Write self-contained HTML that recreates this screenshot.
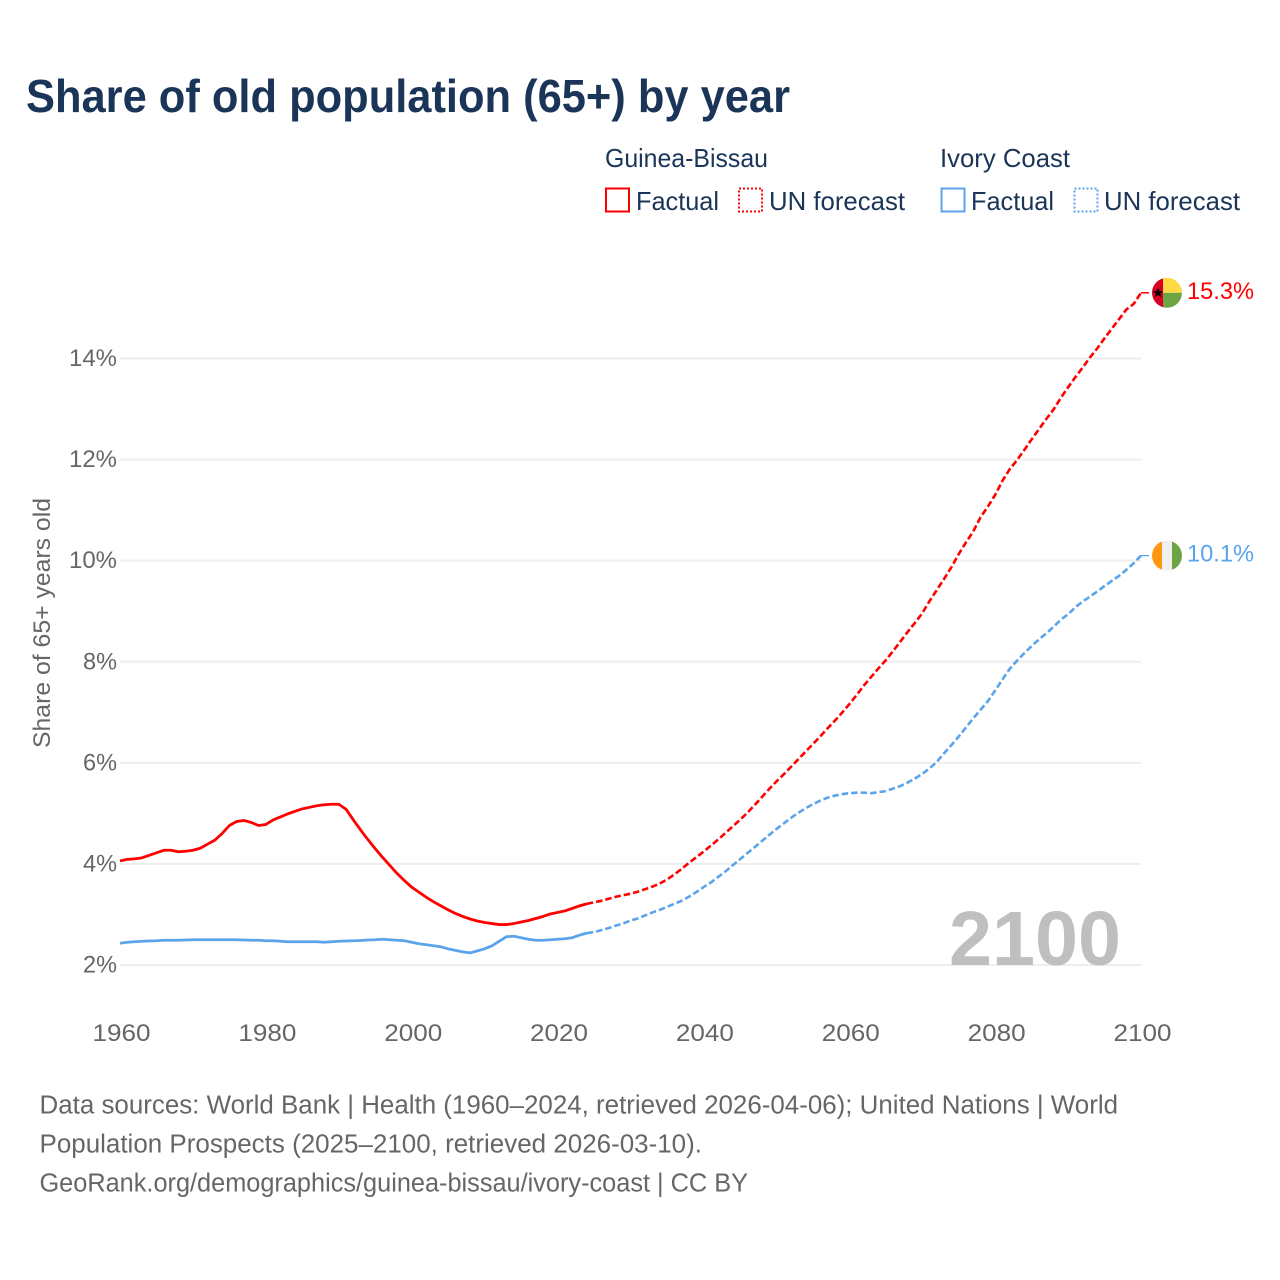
<!DOCTYPE html>
<html lang="en">
<head>
<meta charset="utf-8">
<title>Share of old population (65+) by year</title>
<style>
html,body{margin:0;padding:0;background:#fff;}
svg{display:block;}
text{font-family:"Liberation Sans",sans-serif;}
</style>
</head>
<body>
<svg id="chart" xmlns="http://www.w3.org/2000/svg" width="1280" height="1280" viewBox="0 0 1280 1280">
  <defs>
    <clipPath id="flag-clip"><circle cx="0" cy="0" r="15"/></clipPath>
  </defs>
  <rect x="0" y="0" width="1280" height="1280" fill="#ffffff"/>
  <text x="26" y="112" font-size="46" font-weight="700" fill="#1a3557" textLength="764" lengthAdjust="spacingAndGlyphs">Share of old population (65+) by year</text>

  <g font-size="26" fill="#1a3557">
    <text x="605" y="167" textLength="163" lengthAdjust="spacingAndGlyphs">Guinea-Bissau</text>
    <text x="940" y="167" textLength="130" lengthAdjust="spacingAndGlyphs">Ivory Coast</text>
    <rect x="606" y="188.500" width="23" height="23" fill="none" stroke="#ff0000" stroke-width="2"/>
    <text x="636" y="210" textLength="83" lengthAdjust="spacingAndGlyphs">Factual</text>
    <rect x="739" y="188.500" width="23" height="23" fill="none" stroke="#ff0000" stroke-width="2" stroke-dasharray="2 2"/>
    <text x="769" y="210" textLength="136" lengthAdjust="spacingAndGlyphs">UN forecast</text>
    <rect x="941.500" y="188.500" width="23" height="23" fill="none" stroke="#5ba4ec" stroke-width="2"/>
    <text x="971" y="210" textLength="83" lengthAdjust="spacingAndGlyphs">Factual</text>
    <rect x="1074.500" y="188.500" width="23" height="23" fill="none" stroke="#5ba4ec" stroke-width="2" stroke-dasharray="2 2"/>
    <text x="1104" y="210" textLength="136" lengthAdjust="spacingAndGlyphs">UN forecast</text>
  </g>

  <g id="grid"></g>
  <g id="y-ticks"></g>
  <g id="x-ticks"></g>
  <text transform="translate(50,748) rotate(-90)" x="0" y="0" font-size="24" fill="#666666" textLength="250" lengthAdjust="spacingAndGlyphs">Share of 65+ years old</text>

  <text x="949" y="965" font-size="77" font-weight="700" fill="#bfbfbf" textLength="172" lengthAdjust="spacingAndGlyphs">2100</text>

  <g id="series"></g>

  <g id="flag-gb" clip-path="url(#flag-clip)">
    <rect x="-15" y="-15" width="11" height="30" fill="#d80027"/>
    <rect x="-4" y="-15" width="19" height="15" fill="#ffda44"/>
    <rect x="-4" y="0" width="19" height="15" fill="#6da544"/>
    <polygon points="-9,-5 -7.600,-1.500 -3.900,-1.500 -6.800,0.800 -5.800,4.300 -9,2.300 -12.200,4.300 -11.200,0.800 -14.100,-1.500 -10.400,-1.500" fill="#000000"/>
  </g>
  <g id="flag-ic" clip-path="url(#flag-clip)">
    <rect x="-15" y="-15" width="10" height="30" fill="#ff9811"/>
    <rect x="-5" y="-15" width="10" height="30" fill="#f0f0f0"/>
    <rect x="5" y="-15" width="10" height="30" fill="#6da544"/>
  </g>

  <g font-size="25.500" fill="#666666">
    <text x="39.500" y="1113.500" textLength="1078.500" lengthAdjust="spacingAndGlyphs">Data sources: World Bank | Health (1960–2024, retrieved 2026-04-06); United Nations | World</text>
    <text x="39.500" y="1152.500" textLength="662.500" lengthAdjust="spacingAndGlyphs">Population Prospects (2025–2100, retrieved 2026-03-10).</text>
    <text x="39.500" y="1191.500" textLength="708.500" lengthAdjust="spacingAndGlyphs">GeoRank.org/demographics/guinea-bissau/ivory-coast | CC BY</text>
  </g>
</svg>
<script>
// Years covered by each segment
const factualFirstYear = 1960;
const forecastFirstYear = 2024;

// Guinea-Bissau share of 65+ (%), factual 1960-2024
const guineaBissauFactual = [
  4.06,4.09,4.10,4.12,4.17,4.22,4.27,4.27,4.24,4.25,
  4.27,4.31,4.39,4.47,4.60,4.76,4.84,4.86,4.82,4.76,
  4.78,4.87,4.93,4.99,5.04,5.09,5.12,5.15,5.17,5.18,
  5.18,5.08,4.87,4.67,4.48,4.30,4.13,3.97,3.81,3.67,
  3.54,3.44,3.34,3.25,3.17,3.09,3.02,2.96,2.91,2.87,
  2.84,2.82,2.80,2.80,2.82,2.85,2.88,2.92,2.96,3.01,
  3.04,3.07,3.12,3.17,3.21
];
// Guinea-Bissau UN forecast 2024-2100
const guineaBissauForecast = [
  3.21,3.24,3.27,3.31,3.35,3.38,3.41,3.45,3.50,3.55,
  3.61,3.69,3.79,3.90,4.02,4.13,4.24,4.36,4.48,4.61,
  4.74,4.87,5.01,5.16,5.32,5.48,5.63,5.77,5.92,6.07,
  6.22,6.37,6.52,6.68,6.83,6.99,7.16,7.34,7.53,7.70,
  7.87,8.03,8.21,8.40,8.59,8.77,8.96,9.20,9.42,9.64,
  9.87,10.13,10.36,10.58,10.86,11.07,11.30,11.58,11.81,11.99,
  12.19,12.40,12.60,12.80,12.99,13.22,13.43,13.63,13.82,14.02,
  14.20,14.40,14.59,14.78,14.97,15.08,15.30
];
// Ivory Coast share of 65+ (%), factual 1960-2024
const ivoryCoastFactual = [
  2.43,2.45,2.46,2.47,2.475,2.48,2.49,2.49,2.49,2.495,
  2.50,2.50,2.50,2.50,2.50,2.50,2.50,2.495,2.49,2.49,
  2.48,2.48,2.47,2.46,2.46,2.46,2.46,2.46,2.45,2.46,
  2.47,2.475,2.48,2.485,2.495,2.50,2.51,2.50,2.49,2.48,
  2.45,2.42,2.40,2.38,2.36,2.32,2.29,2.26,2.24,2.28,
  2.32,2.38,2.47,2.56,2.57,2.54,2.51,2.49,2.49,2.50,
  2.51,2.52,2.54,2.59,2.63
];
// Ivory Coast UN forecast 2024-2100
const ivoryCoastForecast = [
  2.63,2.65,2.69,2.73,2.78,2.82,2.88,2.92,2.98,3.04,
  3.09,3.15,3.21,3.27,3.35,3.44,3.54,3.63,3.74,3.85,
  3.97,4.09,4.21,4.33,4.45,4.57,4.69,4.80,4.91,5.01,
  5.10,5.18,5.25,5.31,5.35,5.38,5.40,5.41,5.41,5.40,
  5.42,5.44,5.49,5.54,5.61,5.69,5.78,5.89,6.02,6.19,
  6.35,6.52,6.70,6.88,7.05,7.22,7.43,7.65,7.86,8.02,
  8.17,8.31,8.44,8.56,8.69,8.83,8.94,9.08,9.19,9.29,
  9.39,9.50,9.60,9.70,9.82,9.95,10.10
];
// Axis ticks
const yTickValues = [2,4,6,8,10,12,14];
const xTickYears = [1960,1980,2000,2020,2040,2060,2080,2100];

(function(){
  const NS = 'http://www.w3.org/2000/svg';
  const plot = {left:120, right:1141, y2:965, y14:358.5};
  function xScale(year){ return plot.left + (year - 1960) * (plot.right - plot.left) / 140; }
  function yScale(v){ return plot.y2 - (v - 2) * (plot.y2 - plot.y14) / 12; }
  function el(tag, attrs){
    const e = document.createElementNS(NS, tag);
    for (const k in attrs) e.setAttribute(k, attrs[k]);
    return e;
  }
  function pathFor(values, firstYear){
    return values.map(function(v,i){
      return (i ? 'L' : 'M') + xScale(firstYear + i).toFixed(2) + ' ' + yScale(v).toFixed(2);
    }).join(' ');
  }

  const grid = document.getElementById('grid');
  const yTicks = document.getElementById('y-ticks');
  yTickValues.forEach(function(v){
    const line = el('line', {x1:plot.left, x2:plot.right, y1:yScale(v), y2:yScale(v), stroke:'#eeeeee', 'stroke-width':2});
    
    
    grid.appendChild(line);
    const t = el('text', {x:117, y:yScale(v)+7.5, 'text-anchor':'end', 'font-size':24, fill:'#666666', textLength:(v>=10?48:34), lengthAdjust:'spacingAndGlyphs'});
    
    
    t.textContent = v + '%';
    yTicks.appendChild(t);
  });

  const xTicks = document.getElementById('x-ticks');
  xTickYears.forEach(function(year){
    const t = el('text', {x:xScale(year)+1.5, y:1041, 'text-anchor':'middle', 'font-size':24, fill:'#666666', textLength:58, lengthAdjust:'spacingAndGlyphs'});
    
    
    t.textContent = String(year);
    xTicks.appendChild(t);
  });

  const seriesGroup = document.getElementById('series');
  const RED = '#ff0000', BLUE = '#5ba4ec';

  const gbFactualLine = el('path', {d:pathFor(guineaBissauFactual, factualFirstYear), fill:'none', stroke:RED, 'stroke-width':2.8, 'stroke-linejoin':'round'});
  
  
  seriesGroup.appendChild(gbFactualLine);

  const gbForecastLine = el('path', {d:pathFor(guineaBissauForecast, forecastFirstYear), fill:'none', stroke:RED, 'stroke-width':2.6, 'stroke-dasharray':'6.5 3'});
  
  
  seriesGroup.appendChild(gbForecastLine);

  const icFactualLine = el('path', {d:pathFor(ivoryCoastFactual, factualFirstYear), fill:'none', stroke:BLUE, 'stroke-width':2.8, 'stroke-linejoin':'round'});
  
  
  seriesGroup.appendChild(icFactualLine);

  const icForecastLine = el('path', {d:pathFor(ivoryCoastForecast, forecastFirstYear), fill:'none', stroke:BLUE, 'stroke-width':2.6, 'stroke-dasharray':'6.5 3'});
  
  
  seriesGroup.appendChild(icForecastLine);

  const gbEnd = guineaBissauForecast[guineaBissauForecast.length-1];
  const icEnd = ivoryCoastForecast[ivoryCoastForecast.length-1];

  const gbLeader = el('line', {x1:xScale(2100), x2:1149, y1:yScale(gbEnd), y2:yScale(gbEnd), stroke:RED, 'stroke-width':1.5});
  
  
  seriesGroup.appendChild(gbLeader);

  const icLeader = el('line', {x1:xScale(2100), x2:1149, y1:yScale(icEnd), y2:yScale(icEnd), stroke:BLUE, 'stroke-width':1.2});
  
  
  seriesGroup.appendChild(icLeader);

  document.getElementById('flag-gb').setAttribute('transform', 'translate(1167,' + yScale(gbEnd).toFixed(2) + ')');
  document.getElementById('flag-ic').setAttribute('transform', 'translate(1167,' + yScale(icEnd).toFixed(2) + ')');

  const gbLabel = el('text', {x:1187, y:yScale(gbEnd)+6, 'font-size':24.5, fill:RED, textLength:67, lengthAdjust:'spacingAndGlyphs'});
  
  
  gbLabel.textContent = gbEnd.toFixed(1) + '%';
  seriesGroup.appendChild(gbLabel);

  const icLabel = el('text', {x:1187, y:yScale(icEnd)+6, 'font-size':24.5, fill:BLUE, textLength:67, lengthAdjust:'spacingAndGlyphs'});
  
  
  icLabel.textContent = icEnd.toFixed(1) + '%';
  seriesGroup.appendChild(icLabel);
})();
</script>
</body>
</html>
